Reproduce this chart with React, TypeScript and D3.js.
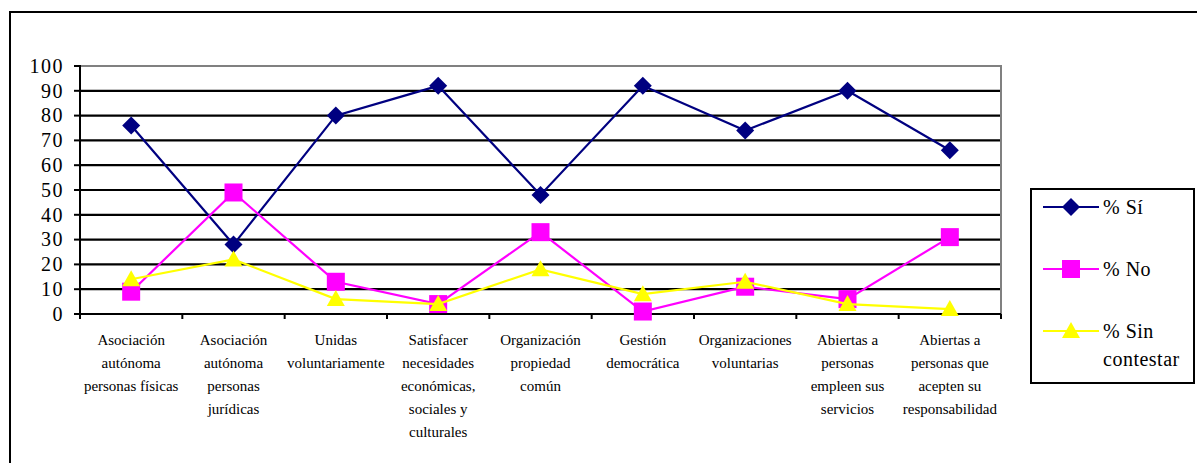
import * as d3 from "d3";

const categories = [
  ["Asociación", "autónoma", "personas físicas"],
  ["Asociación", "autónoma", "personas", "jurídicas"],
  ["Unidas", "voluntariamente"],
  ["Satisfacer", "necesidades", "económicas,", "sociales y", "culturales"],
  ["Organización", "propiedad", "común"],
  ["Gestión", "democrática"],
  ["Organizaciones", "voluntarias"],
  ["Abiertas a", "personas", "empleen sus", "servicios"],
  ["Abiertas a", "personas que", "acepten su", "responsabilidad"],
];
const si = [76, 28, 80, 92, 48, 92, 74, 90, 66];
const no = [9, 49, 13, 4, 33, 1, 11, 6, 31];
const sinContestar = [14, 22, 6, 4, 18, 8, 13, 4, 2];
const yTicks = [0, 10, 20, 30, 40, 50, 60, 70, 80, 90, 100];

const series = [
  { name: ["% Sí"], values: si, color: "#000080", marker: "diamond" },
  { name: ["% No"], values: no, color: "#FF00FF", marker: "square" },
  { name: ["% Sin", "contestar"], values: sinContestar, color: "#FFFF00", marker: "triangle" },
];

const W = 1197;
const H = 463;
const FONT = "\"Liberation Serif\", \"Times New Roman\", serif";

const left = 80, right = 1001, top = 66, bottom = 314;
const x = d3.scaleBand<number>().domain(d3.range(categories.length)).range([left, right]);
const y = d3.scaleLinear().domain([0, 100]).range([bottom, top]);
const cx = (i: number) => (x(i) as number) + x.bandwidth() / 2;
const line = d3.line<number>().x((d, i) => cx(i)).y((d) => y(d));

const Marker = ({ kind, color, px, py }) => {
  if (kind === "diamond")
    return <path d={`M${px},${py - 9}L${px + 9},${py}L${px},${py + 9}L${px - 9},${py}Z`} fill={color} />;
  if (kind === "square")
    return <rect x={px - 9} y={py - 9} width={18} height={18} fill={color} />;
  return <path d={`M${px},${py - 9}L${px + 9},${py + 7}L${px - 9},${py + 7}Z`} fill={color} />;
};

const App = () => {
  return (
    <svg
      width={W}
      height={H}
      style={{ position: "absolute", left: 0, top: 0, background: "white" }}
    >
      <style>{`text { font-family: "Liberation Serif", "Times New Roman", serif !important; }`}</style>
      {/* outer frame */}
      <rect x={10} y={12} width={1200} height={470} fill="white" stroke="black" strokeWidth={2} />

      {/* gridlines */}
      {yTicks.filter((t) => t > 0 && t < 100).map((t) => (
        <line key={t} x1={left} x2={right} y1={y(t)} y2={y(t)} stroke="black" strokeWidth={2.2} />
      ))}
      <path d={`M${left},${y(100)}H${right}V${bottom}`} fill="none" stroke="#808080" strokeWidth={2} />

      {/* y axis */}
      <line x1={left} x2={left} y1={y(100) - 1} y2={bottom + 1} stroke="black" strokeWidth={2} />
      {yTicks.map((t) => (
        <g key={t} transform={`translate(${left},${y(t)})`}>
          <line x1={-6} x2={0} stroke="black" strokeWidth={2} />
          <text x={-16} dy="0.34em" textAnchor="end" fontFamily={FONT} fontSize={20} letterSpacing={1.5}>
            {String(t)}
          </text>
        </g>
      ))}

      {/* x axis */}
      <line x1={left} x2={right} y1={bottom} y2={bottom} stroke="black" strokeWidth={2} />
      {d3.range(categories.length + 1).map((k) => (
        <line
          key={k}
          x1={left + k * x.step()}
          x2={left + k * x.step()}
          y1={bottom}
          y2={bottom + 5}
          stroke="black"
          strokeWidth={2}
        />
      ))}
      {categories.map((lines, i) =>
        lines.map((l, j) => (
          <text
            key={`${i}-${j}`}
            x={cx(i)}
            y={345 + j * 23}
            textAnchor="middle"
            fontFamily={FONT}
            fontSize={15}
          >
            {l}
          </text>
        ))
      )}

      {/* series */}
      {series.map((s) => (
        <g key={s.marker}>
          <path d={line(s.values) as string} fill="none" stroke={s.color} strokeWidth={2.2} />
          {s.values.map((v, i) => (
            <Marker key={i} kind={s.marker} color={s.color} px={cx(i)} py={y(v)} />
          ))}
        </g>
      ))}

      {/* legend */}
      <rect x={1031} y={189} width={163} height={194} fill="white" stroke="black" strokeWidth={2} />
      {series.map((s, i) => {
        const ly = 207 + i * 62;
        return (
          <g key={s.marker}>
            <line x1={1043} x2={1099} y1={ly} y2={ly} stroke={s.color} strokeWidth={2.2} />
            <Marker kind={s.marker} color={s.color} px={1071} py={ly} />
            {s.name.map((n, j) => (
              <text key={j} x={1103} y={ly + 7 + j * 28} fontFamily={FONT} fontSize={20} letterSpacing={0.5}>
                {n}
              </text>
            ))}
          </g>
        );
      })}
    </svg>
  );
};

export default App;
